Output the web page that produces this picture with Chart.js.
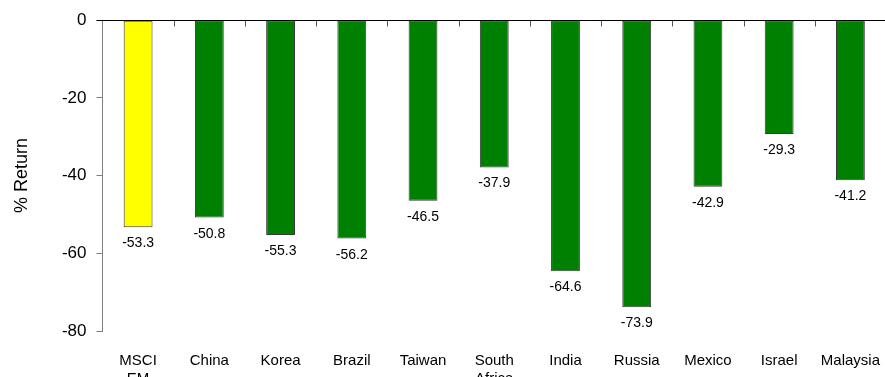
<!DOCTYPE html>
<html>
<head>
<meta charset="utf-8">
<script src="https://cdn.jsdelivr.net/npm/chart.js@4/dist/chart.umd.min.js"></script>
<style>
  html, body { margin: 0; padding: 0; background: #fff; width: 885px; height: 377px; overflow: hidden; }
  canvas { display: block; }
</style>
</head>
<body>
<canvas id="chart" width="892" height="377"></canvas>
<script>
// Market returns (%), one bar per market
const categories = [["MSCI", "EM"], "China", "Korea", "Brazil", "Taiwan", ["South", "Africa"], "India", "Russia", "Mexico", "Israel", "Malaysia"];
const returns = [-53.3, -50.8, -55.3, -56.2, -46.5, -37.9, -64.6, -73.9, -42.9, -29.3, -41.2];
const yTickValues = [0, -20, -40, -60, -80];
const benchmarkColor = '#FFFF00';
const marketColor = '#008000';
const barColors = returns.map((_, i) => i === 0 ? benchmarkColor : marketColor);

const FONT = "'Liberation Sans', Arial, Helvetica, sans-serif";

// Zero line across the top with category separators, plus value labels under each bar
const overlay = {
  id: 'overlay',
  afterDatasetsDraw(chart) {
    const { ctx, chartArea, scales } = chart;
    const x = scales.x, y = scales.y;
    const y0 = Math.round(y.getPixelForValue(0)) + 0.5;
    ctx.save();
    // separators between categories
    ctx.strokeStyle = '#555';
    ctx.lineWidth = 1;
    for (let i = 1; i <= categories.length; i++) {
      const px = Math.round((x.getPixelForValue(i - 1) + x.getPixelForValue(i)) / 2) + 0.5;
      ctx.beginPath();
      ctx.moveTo(px, y0);
      ctx.lineTo(px, y0 + 6);
      ctx.stroke();
    }
    // zero line
    ctx.strokeStyle = '#000';
    ctx.beginPath();
    ctx.moveTo(chartArea.left - 6, y0);
    ctx.lineTo(chartArea.right + 20, y0);
    ctx.stroke();
    // value labels
    ctx.fillStyle = '#000';
    ctx.font = '14px ' + FONT;
    ctx.textAlign = 'center';
    ctx.textBaseline = 'alphabetic';
    const meta = chart.getDatasetMeta(0);
    meta.data.forEach((bar, i) => {
      ctx.fillText(returns[i].toFixed(1), bar.x, bar.y + 20);
    });
    ctx.restore();
  }
};

new Chart(document.getElementById('chart'), {
  type: 'bar',
  data: {
    labels: categories,
    datasets: [{
      data: returns,
      backgroundColor: barColors,
      borderColor: '#3a3a3a',
      borderWidth: 1,
      borderSkipped: false,
      categoryPercentage: 1,
      barPercentage: 0.405
    }]
  },
  options: {
    responsive: false,
    animation: false,
    layout: { padding: { top: 19, left: 0, right: 0, bottom: 0 } },
    plugins: {
      legend: { display: false },
      tooltip: { enabled: false }
    },
    scales: {
      x: {
        grid: { display: false },
        border: { display: false },
        ticks: {
          color: '#000',
          font: { family: FONT, size: 15, lineHeight: 1.25 },
          padding: 12,
          maxRotation: 0,
          minRotation: 0,
          autoSkip: false
        },
        afterFit(scale) { scale.height = 46; }
      },
      y: {
        min: -80,
        max: 0,
        afterBuildTicks(scale) { scale.ticks = yTickValues.map(v => ({ value: v })); },
        grid: { drawOnChartArea: false, drawTicks: true, tickLength: 6, color: '#808080' },
        border: { display: true, color: '#808080' },
        ticks: {
          color: '#000',
          font: { family: FONT, size: 17 },
          padding: 10
        },
        title: {
          display: true,
          text: '% Return',
          color: '#000',
          font: { family: FONT, size: 18 },
          padding: { top: 11, bottom: 0 }
        },
        afterFit(scale) { scale.width = 102.5; }
      }
    }
  },
  plugins: [overlay]
});
</script>
</body>
</html>
